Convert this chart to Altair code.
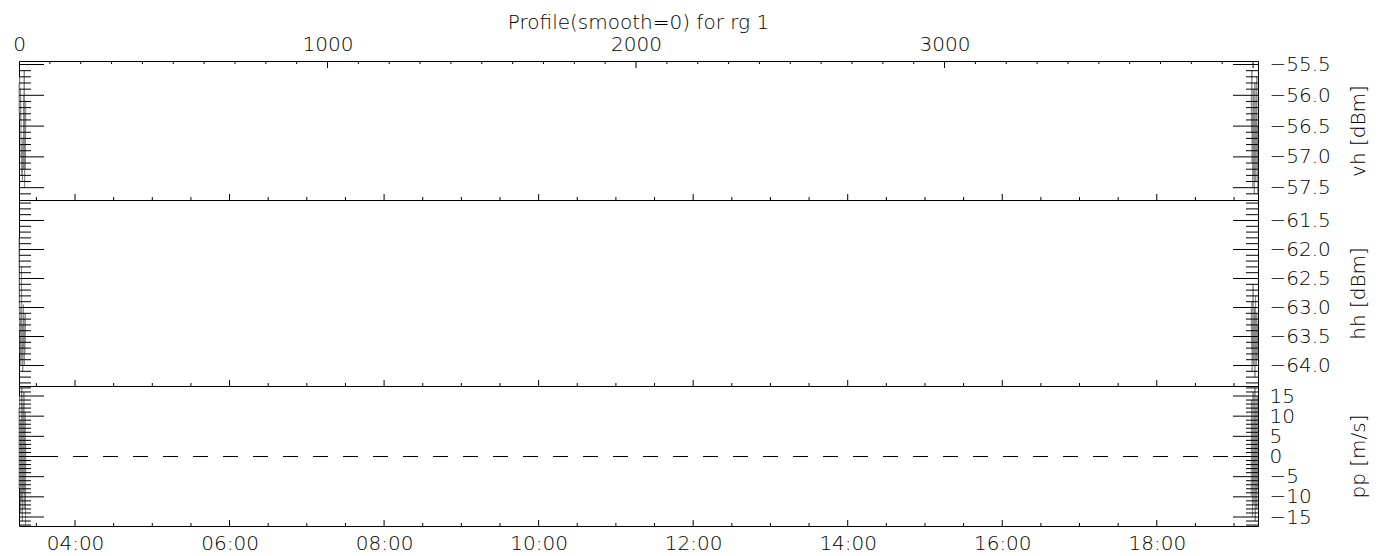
import altair as alt
import pandas as pd

FONT = "DejaVu Sans"
FW = 200
TITLE = "Profile(smooth=0) for rg 1"

# ---- axes ----
HOUR_DOMAIN = [3.275, 19.31]
HOUR_LABELS = [4, 6, 8, 10, 12, 14, 16, 18]
HOUR_MINOR = [h / 2 for h in range(7, 39) if h % 4 != 0]

IDX_DOMAIN = [0, 4016]
IDX_LABELS = [0, 1000, 2000, 3000]
IDX_MAJOR = [1000, 2000, 3000, 4000]
IDX_MINOR = [k * 100 for k in range(1, 41) if k % 10 != 0]

VH_DOMAIN = [-57.70, -55.443]
VH_MAJOR = [-55.5, -56.0, -56.5, -57.0, -57.5]
VH_MINOR = [round(-55.5 - k * 0.1, 1) for k in range(1, 22) if k % 5 != 0]

HH_DOMAIN = [-64.353, -61.147]
HH_MAJOR = [-61.5, -62.0, -62.5, -63.0, -63.5, -64.0]
HH_MINOR = [round(-61.2 - k * 0.1, 1) for k in range(0, 32) if k % 5 != 3]

PP_DOMAIN = [-17.23, 17.48]
PP_MAJOR = [15, 10, 5, 0, -5, -10, -15]
PP_MINOR = [k for k in range(-17, 18) if k % 5 != 0]
PP_ZERO = [0]

# ---- data (samples at both ends of the record) ----
VH_LEFT = [-55.8, -56.3, -55.7, -56.1, -56.4, -55.9, -56.2, -57.0, -56.8, -57.3, -56.9, -57.4,
           -57.1, -56.7, -57.2, -56.0, -56.5, -55.6, -57.5, -57.0, -56.3, -57.2, -56.1]
VH_RIGHT = [-56.0, -56.6, -55.6, -57.1, -56.3, -57.5, -56.8, -55.9, -57.3, -56.2, -57.6, -56.7,
            -55.8, -57.0, -56.4, -57.4, -56.1, -56.9, -55.7, -57.2, -56.5, -57.6]
HH_LEFT = [-61.8, -62.9, -63.4, -63.0, -63.8, -63.2, -64.0, -63.5, -62.3, -63.1, -63.9, -63.3,
           -64.1, -63.6, -62.95, -63.7, -63.2, -64.0, -63.4, -63.8, -63.1, -63.6]
HH_RIGHT = [-63.0, -63.7, -62.9, -64.1, -63.3, -63.9, -62.6, -63.5, -64.0, -63.2, -63.8, -63.0,
            -64.2, -63.4, -62.8, -63.9, -63.6, -64.0, -63.1, -63.7, -63.3, -63.9]
PP_LEFT = [12, -8, 15, -3, 6, -14, 9, -11, 2, 17, -6, -16, 4, 13, -1, -9, 16, -13, 7, -4, 11, -17, 3]
PP_RIGHT = [-10, 14, -2, 8, -15, 5, 16, -7, 1, -12, 10, -5, 17, -16, 3, 12, -9, 6, -13, 15, -1, -8]

W = 1239
MAJ_LEN = 25
MIN_LEN = 12


def samples(left, right):
    rows = [{"i": k, "v": v, "side": "L"} for k, v in enumerate(left)]
    n0 = IDX_DOMAIN[1] - len(right)
    rows += [{"i": n0 + k, "v": v, "side": "R"} for k, v in enumerate(right)]
    return pd.DataFrame(rows)


def panel(H, ydomain, majors, minors, left, right, fmt, ytitle, top=False, bottom=False, zero=None):
    yaxis = alt.Axis(orient="right", values=majors, format=fmt, ticks=False, domain=False, grid=False,
                     labelAlign="left", labelPadding=11, labelFontSize=20, labelFont=FONT,
                     labelFontWeight=FW, labelColor="black", labelOverlap=False, labelFlush=False,
                     title=ytitle, titleAngle=270, titleX=100, titleY=H / 2, titleAlign="center",
                     titleBaseline="middle", titleFontSize=20, titleFont=FONT,
                     titleFontWeight=FW, titleColor="black")
    ys = alt.Y("v:Q", scale=alt.Scale(domain=ydomain, nice=False, zero=False), axis=yaxis)

    hscale = alt.Scale(domain=HOUR_DOMAIN, nice=False, zero=False)
    if bottom:
        haxis = alt.Axis(orient="bottom", values=HOUR_LABELS, ticks=False, domain=False, grid=False,
                         labelExpr="(datum.value < 10 ? '0' : '') + datum.value + ':00'",
                         labelPadding=7, labelFontSize=20, labelFont=FONT, labelFontWeight=FW,
                         labelColor="black", labelFlush=False, labelOverlap=False, title=None)
    else:
        haxis = None
    hmaj = alt.Chart(pd.DataFrame({"t": HOUR_LABELS})).mark_rule(color="black").encode(
        x=alt.X("t:Q", scale=hscale, axis=haxis), y=alt.value(H), y2=alt.value(H - 6))
    hmin = alt.Chart(pd.DataFrame({"t": HOUR_MINOR})).mark_rule(color="black").encode(
        x=alt.X("t:Q", scale=hscale, axis=haxis), y=alt.value(H), y2=alt.value(H - 3))
    hour_group = alt.layer(hmaj, hmin)

    iscale = alt.Scale(domain=IDX_DOMAIN, nice=False, zero=False)
    if top:
        iaxis = alt.Axis(orient="top", values=IDX_LABELS, format="d", ticks=False, domain=False,
                         grid=False, labelPadding=7, labelFontSize=20, labelFont=FONT,
                         labelFontWeight=FW, labelColor="black", labelFlush=False,
                         labelOverlap=False, title=None)
    else:
        iaxis = None
    ilayers = [alt.Chart(samples(left, right)).mark_line(color="#888888", strokeWidth=1).encode(
        x=alt.X("i:Q", scale=iscale, axis=iaxis), y=ys, detail="side:N")]
    if top:
        ilayers.append(alt.Chart(pd.DataFrame({"i": IDX_MAJOR})).mark_rule(color="black").encode(
            x=alt.X("i:Q", scale=iscale, axis=iaxis), y=alt.value(0), y2=alt.value(7)))
        ilayers.append(alt.Chart(pd.DataFrame({"i": IDX_MINOR})).mark_rule(color="black").encode(
            x=alt.X("i:Q", scale=iscale, axis=iaxis), y=alt.value(0), y2=alt.value(3)))
    idx_group = alt.layer(*ilayers)

    ymaj = pd.DataFrame({"v": majors})
    ymin = pd.DataFrame({"v": minors})
    ylayers = [
        alt.Chart(ymaj).mark_rule(color="black").encode(x=alt.value(0), x2=alt.value(MAJ_LEN), y=ys),
        alt.Chart(ymin).mark_rule(color="black").encode(x=alt.value(0), x2=alt.value(MIN_LEN), y=ys),
        alt.Chart(ymaj).mark_rule(color="black").encode(x=alt.value(W), x2=alt.value(W - MAJ_LEN), y=ys),
        alt.Chart(ymin).mark_rule(color="black").encode(x=alt.value(W), x2=alt.value(W - MIN_LEN), y=ys),
    ]
    if zero is not None:
        ylayers.append(alt.Chart(pd.DataFrame({"v": zero})).mark_rule(
            color="black", strokeDash=[15, 15], strokeWidth=1).encode(y=ys))

    props = dict(width=W, height=H)
    if top:
        props["title"] = alt.Title(TITLE, anchor="middle", frame="group", fontSize=20, font=FONT,
                                   fontWeight=FW, color="black", offset=1)
    return alt.layer(hour_group, idx_group, *ylayers).resolve_scale(x="independent").properties(**props)


p1 = panel(139, VH_DOMAIN, VH_MAJOR, VH_MINOR, VH_LEFT, VH_RIGHT, ".1f", "vh [dBm]", top=True)
p2 = panel(186, HH_DOMAIN, HH_MAJOR, HH_MINOR, HH_LEFT, HH_RIGHT, ".1f", "hh [dBm]")
p3 = panel(140, PP_DOMAIN, PP_MAJOR, PP_MINOR, PP_LEFT, PP_RIGHT, "d", "pp [m/s]", bottom=True, zero=PP_ZERO)

chart = alt.vconcat(p1, p2, p3, spacing=0).properties(
    padding={"left": 4, "top": 4, "right": 5, "bottom": 0}, background="white", bounds="flush"
).configure_view(stroke="black", strokeWidth=1)

chart.save("out.html", embed_options={"renderer": "svg", "actions": False})
